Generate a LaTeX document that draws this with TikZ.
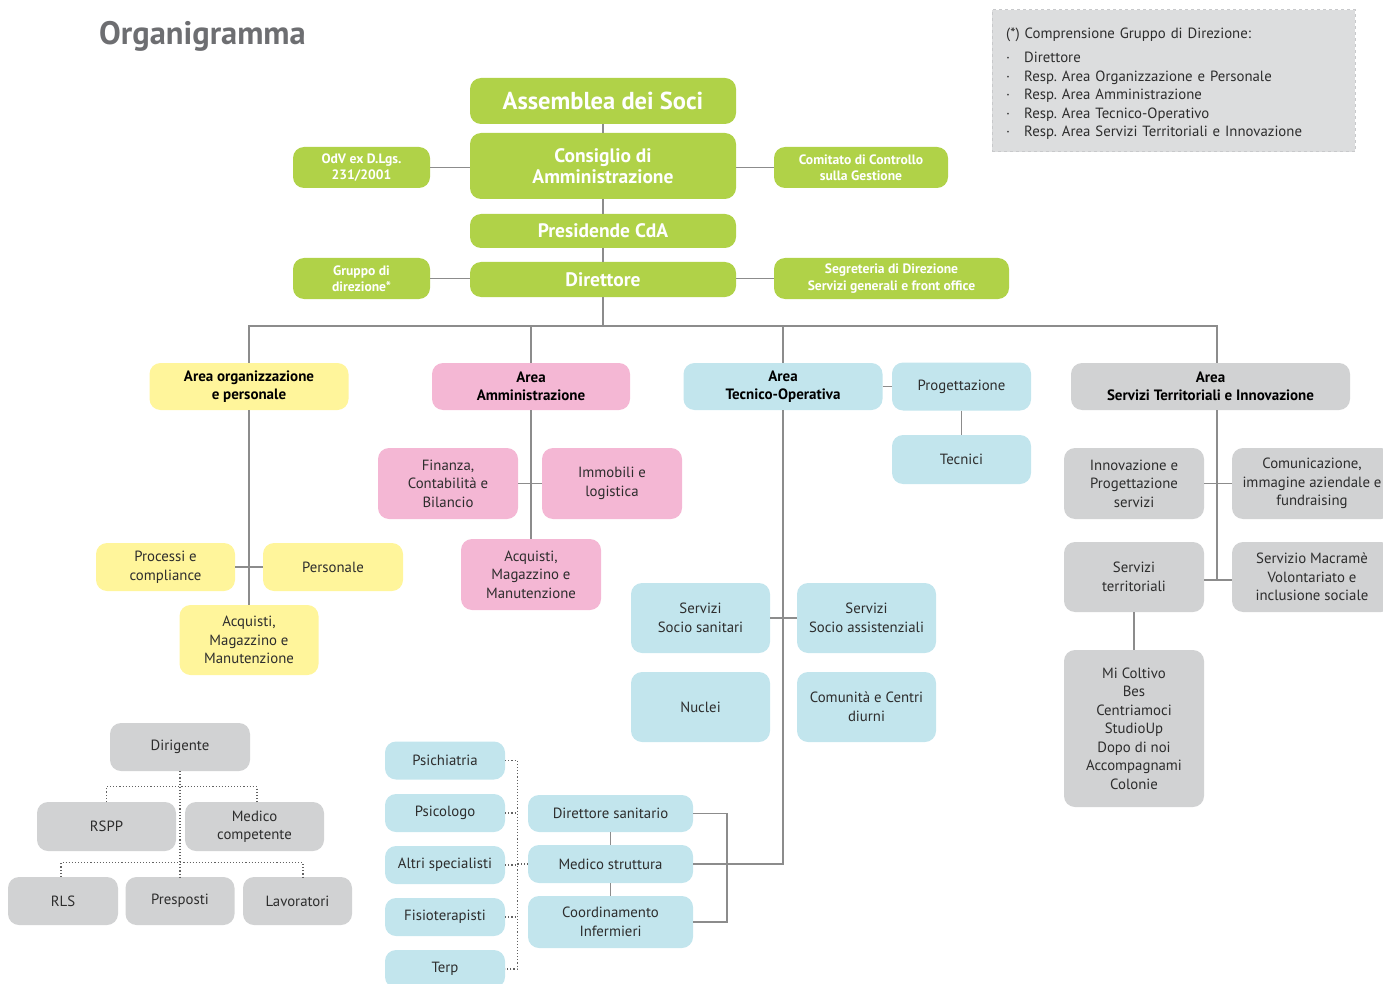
\documentclass[tikz,border=0pt]{standalone}
\usepackage{fontspec}
\setmainfont{PT Sans}
\frenchspacing
\definecolor{grn}{RGB}{176,210,72}
\definecolor{yel}{RGB}{255,245,155}
\definecolor{pnk}{RGB}{244,183,212}
\definecolor{blu}{RGB}{194,229,237}
\definecolor{gry}{RGB}{209,210,211}
\definecolor{infog}{RGB}{220,221,222}
\definecolor{infob}{RGB}{200,201,203}
\definecolor{lin}{RGB}{140,140,140}
\definecolor{txt}{RGB}{45,45,45}
\definecolor{ttl}{RGB}{109,110,113}
\newcommand\myfs[2]{\fontsize{#1}{#2}\selectfont}
\newcommand\bul{\makebox[18pt][l]{·}}
\tikzset{
  bx/.style={rounded corners=11pt, inner sep=0pt, align=center, text=txt, font=\myfs{14.8}{18.5}},
  sz/.style 2 args={minimum width=#1pt, minimum height=#2pt},
  gbox/.style={bx, fill=grn, text=white},
  ybox/.style={bx, fill=yel},
  pbox/.style={bx, fill=pnk},
  bbox/.style={bx, fill=blu},
  cbox/.style={bx, fill=gry},
  head/.style={font=\myfs{15}{18}\bfseries, text=black},
  gsmall/.style={font=\myfs{13.6}{16.5}\bfseries},
  gbig/.style={font=\myfs{19.5}{21.5}\bfseries},
  conn/.style={draw=lin, line width=1.6pt},
  dotl/.style={draw=lin!70!black, line width=1.1pt, dash pattern=on 1.1pt off 2pt},
}
\begin{document}
\begin{tikzpicture}[x=1pt,y=-1pt]
\useasboundingbox (0,0) rectangle (1383,984);

% title
\node[anchor=base west, inner sep=0pt, font=\myfs{32.5}{36}\bfseries, text=ttl] (title) at (99,45) {Organigramma};

% info box
\node[fill=infog, draw=infob, dashed, line width=1pt, sz={363}{142}, inner sep=0pt] (info) at (1173.5,81) {};
\node[anchor=north west, text width=340pt, align=left, inner sep=0pt, text=txt, font=\myfs{14.8}{18.6}] (infotext) at (1006,28)
 {(*) Comprensione Gruppo di Direzione:\\[5.2pt]
  \bul Direttore\\
  \bul Resp. Area Organizzazione e Personale\\
  \bul Resp. Area Amministrazione\\
  \bul Resp. Area Tecnico-Operativo\\
  \bul Resp. Area Servizi Territoriali e Innovazione};

% green governance nodes
\node[gbox, sz={266}{46}, font=\myfs{24.5}{26}\bfseries] (assemblea) at (603,101) {Assemblea dei Soci};
\node[gbox, sz={266}{66}, gbig] (consiglio) at (603,166) {Consiglio di\\Amministrazione};
\node[gbox, sz={266}{34}, gbig] (presidente) at (603,231) {Presidende CdA};
\node[gbox, sz={266}{35}, gbig] (direttore) at (603,279.5) {Direttore};
\node[gbox, sz={137}{41}, gsmall] (odv) at (361.5,167.5) {OdV ex D.Lgs.\\231/2001};
\node[gbox, sz={174}{41}, gsmall] (comitato) at (861,167.5) {Comitato di Controllo\\sulla Gestione};
\node[gbox, sz={137}{41}, gsmall] (gruppo) at (361.5,278.5) {Gruppo di\\direzione*};
\node[gbox, sz={235}{41}, gsmall] (segreteria) at (891.5,278.5) {Segreteria di Direzione\\Servizi generali e front office};

\draw[conn] (assemblea) -- (consiglio);
\draw[conn] (consiglio) -- (presidente);
\draw[conn] (presidente) -- (direttore);
\draw[conn] (odv.east) -- (odv.east -| consiglio.west);
\draw[conn] (comitato.west) -- (comitato.west -| consiglio.east);
\draw[conn] (gruppo.east) -- (gruppo.east -| direttore.west);
\draw[conn] (segreteria.west) -- (segreteria.west -| direttore.east);

% areas
\node[ybox, head, sz={199}{47}] (areaorg) at (249,386.5) {Area organizzazione\\e personale};
\node[pbox, head, sz={198}{47}] (areaamm) at (531,386.5) {Area\\Amministrazione};
\node[bbox, head, sz={199}{47}] (areatec) at (783,386.5) {Area\\Tecnico-Operativa};
\node[cbox, head, sz={279}{47}] (areaserv) at (1210.5,386.5) {Area\\Servizi Territoriali e Innovazione};

\coordinate (bus) at (603,326);
\draw[conn] (direttore.south) -- (bus);
\draw[conn] (areaorg.north) -- (areaorg.north |- bus) -- ([xshift=6.5pt]areaserv.north |- bus) -- ([xshift=6.5pt]areaserv.north);
\draw[conn] (areaamm.north) -- (areaamm.north |- bus);
\draw[conn] (areatec.north) -- (areatec.north |- bus);

% yellow
\node[ybox, sz={139}{48}] (processi) at (165.5,567) {Processi e\\compliance};
\node[ybox, sz={140}{48}] (personale) at (333,567) {Personale};
\node[ybox, sz={139}{70}] (acqY) at (249,640) {Acquisti,\\Magazzino e\\Manutenzione};
\draw[conn] (areaorg.south) -- (acqY.north);
\draw[conn] (processi) -- (personale);

% pink
\node[pbox, sz={140}{71}] (finanza) at (448,483.5) {Finanza,\\Contabilità e\\Bilancio};
\node[pbox, sz={140}{71}] (immobili) at (612,483.5) {Immobili e\\logistica};
\node[pbox, sz={140}{71}] (acqP) at (531,574.5) {Acquisti,\\Magazzino e\\Manutenzione};
\draw[conn] (areaamm.south) -- (acqP.north);
\draw[conn] (finanza) -- (immobili);

% blue
\node[bbox, sz={139}{48}] (progettazione) at (961.5,386.5) {Progettazione};
\node[bbox, sz={139}{49}] (tecnici) at (961.5,459.5) {Tecnici};
\draw[conn] (areatec.east) -- (progettazione.west);
\draw[conn] (progettazione) -- (tecnici);

\node[bbox, sz={139}{70}] (sss) at (700.5,618) {Servizi\\Socio sanitari};
\node[bbox, sz={139}{70}] (ssa) at (866.5,618) {Servizi\\Socio assistenziali};
\node[bbox, sz={139}{70}] (nuclei) at (700.5,707) {Nuclei};
\node[bbox, sz={139}{70}] (comunita) at (866.5,707) {Comunità e Centri\\diurni};
\draw[conn] (sss) -- (ssa);

\node[bbox, sz={120}{38}] (psichiatria) at (445,760.5) {Psichiatria};
\node[bbox, sz={120}{38}] (psicologo) at (445,813) {Psicologo};
\node[bbox, sz={120}{38}] (altri) at (445,865) {Altri specialisti};
\node[bbox, sz={120}{38}] (fisio) at (445,917) {Fisioterapisti};
\node[bbox, sz={120}{38}] (terp) at (445,969) {Terp};
\node[bbox, sz={165}{37}] (dirsan) at (610.5,813.5) {Direttore sanitario};
\node[bbox, sz={165}{38}] (medico) at (610.5,864) {Medico struttura};
\node[bbox, sz={165}{52}] (coord) at (610.5,922) {Coordinamento\\Infermieri};

\draw[conn] (dirsan) -- (medico);
\draw[conn] (medico) -- (coord);
\draw[conn] (dirsan.east) -- ++(34,0) |- (coord.east);
\draw[conn] (areatec.south) |- (medico.east);

\draw[dotl] (psichiatria.east) -- ++(12,0) coordinate (dt) -- (dt |- terp.east) -- (terp.east);
\draw[dotl] (psicologo.east) -- (psicologo.east -| dt);
\draw[dotl] (altri.east) -- (altri.east -| dt);
\draw[dotl] (fisio.east) -- (fisio.east -| dt);
\draw[dotl] (medico.west) -- (medico.west -| dt);

% gray right
\node[cbox, sz={140}{71}] (innov) at (1134,483.5) {Innovazione e\\Progettazione\\servizi};
\node[cbox, sz={160}{71}] (comunic) at (1312,483.5) {Comunicazione,\\immagine aziendale e\\fundraising};
\node[cbox, sz={140}{70}] (servterr) at (1134,577) {Servizi\\territoriali};
\node[cbox, sz={160}{70}] (macrame) at (1312,577) {Servizio Macramè\\Volontariato e\\inclusione sociale};
\node[cbox, sz={140}{157}] (micoltivo) at (1134,728.5) {Mi Coltivo\\Bes\\Centriamoci\\StudioUp\\Dopo di noi\\Accompagnami\\Colonie};
\draw[conn] ([xshift=6.5pt]areaserv.south) -- ([xshift=6.5pt,yshift=-3pt]areaserv.south |- servterr.east);
\draw[conn] (innov) -- (comunic);
\draw[conn] ([yshift=-3pt]servterr.east) -- ([yshift=-3pt]macrame.west);
\draw[conn] (servterr) -- (micoltivo);

% gray bottom left
\node[cbox, sz={140}{48}] (dirigente) at (180,747) {Dirigente};
\node[cbox, sz={139}{49}] (rspp) at (106.5,826.5) {RSPP};
\node[cbox, sz={139}{49}] (medcomp) at (254.5,826.5) {Medico\\competente};
\node[cbox, sz={110}{48}] (rls) at (63,901) {RLS};
\node[cbox, sz={109}{48}] (presposti) at (180,901) {Presposti};
\node[cbox, sz={109}{48}] (lavoratori) at (297.5,901) {Lavoratori};
\draw[dotl] (dirigente.south) -- (presposti.north);
\draw[dotl] (rspp.north) -- ++(0,-15) -| ([xshift=2.5pt]medcomp.north);
\draw[dotl] ([xshift=-2pt]rls.north) -- ++(0,-14) -| ([xshift=5.5pt]lavoratori.north);
\end{tikzpicture}
\end{document}
